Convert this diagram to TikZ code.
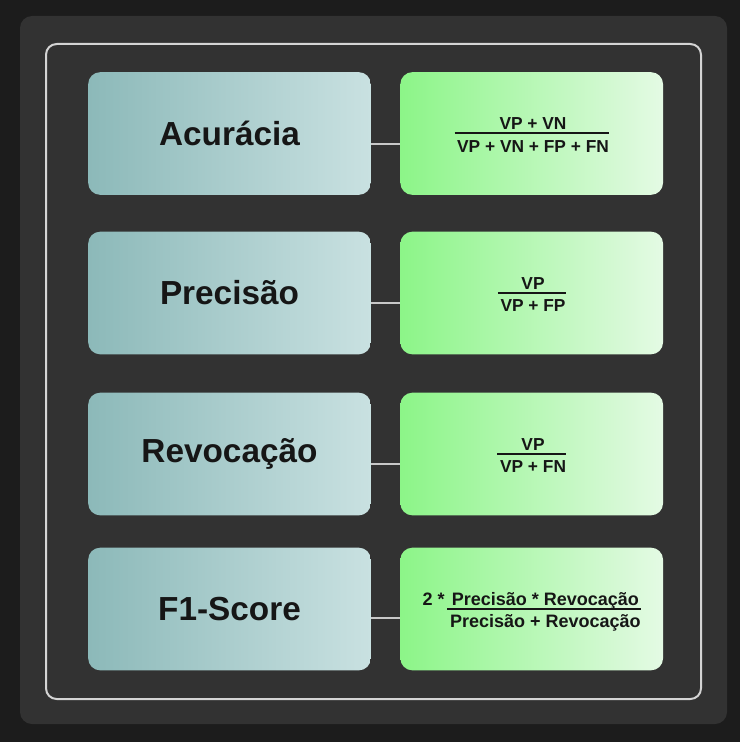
\documentclass[tikz,border=0pt]{standalone}
\usepackage{fontspec}
\setmainfont{Liberation Sans}
\usetikzlibrary{positioning}

\definecolor{bgdark}{HTML}{1C1C1C}
\definecolor{panel}{HTML}{323232}
\definecolor{framegray}{HTML}{D4D4D4}
\definecolor{linkgray}{HTML}{C8C8C8}
\definecolor{ink}{HTML}{161616}
\definecolor{metricL}{HTML}{8CB9B9}
\definecolor{metricR}{HTML}{C9E1E1}
\definecolor{formulaL}{HTML}{8CF588}
\definecolor{formulaR}{HTML}{E4FAE4}

% fraction: optional prefix, numerator tight on the bar
\newcommand{\ratio}[3][]{\setlength{\arrayrulewidth}{1.5pt}%
  \begin{tabular}{@{}r@{}c@{}}#1 & \rule{0pt}{16pt}\hspace{2pt}#2\hspace{2pt}\\[-2.8pt]\cline{2-2} & \rule{0pt}{15pt}\hspace{2pt}#3\hspace{2pt}\end{tabular}}

\begin{document}
\begin{tikzpicture}[
    x=0.75pt, y=-0.75pt,
    metric/.style={rectangle, rounded corners=9pt, left color=metricL, right color=metricR, text=ink, minimum width=212pt, minimum height=92pt, font=\fontsize{25}{29}\selectfont\bfseries},
    formula/.style={rectangle, rounded corners=9pt, left color=formulaL, right color=formulaR, text=ink, minimum width=197pt, minimum height=92pt, font=\fontsize{13}{16}\selectfont\bfseries},
    link/.style={draw=linkgray, line width=1.5pt}
]
    % background, panel and frame
    \fill[bgdark] (0,0) rectangle (740,742);
    \fill[panel, rounded corners=9pt] (20,16) rectangle (727,724);
    \draw[framegray, line width=1.5pt, rounded corners=8pt] (46,44) rectangle (701,699);

    % metrics
    \node[metric] (acc) at (229.5,133.5) {Acurácia};
    \node[metric] (prec) at (229.5,293) {Precisão};
    \node[metric] (rev) at (229.5,454) {Revocação};
    \node[metric] (fone) at (229.5,609) {F1-Score};

    % formulas
    \node[formula, right=21.75pt of acc] (accf) {\ratio{VP + VN}{VP + VN + FP + FN}};
    \node[formula, right=21.75pt of prec] (precf) {\ratio{VP}{VP + FP}};
    \node[formula, right=21.75pt of rev] (revf) {\ratio{VP}{VP + FN}};
    \node[formula, right=21.75pt of fone, font=\fontsize{13.5}{16}\selectfont\bfseries] (fonef) {\ratio[2 *\hspace{2pt}]{Precisão * Revocação}{Precisão + Revocação}};

    \draw[link] ([yshift=-7.5pt]acc.east) -- ([yshift=-7.5pt]accf.west);
    \draw[link] ([yshift=-7.5pt]prec.east) -- ([yshift=-7.5pt]precf.west);
    \draw[link] ([yshift=-7.5pt]rev.east) -- ([yshift=-7.5pt]revf.west);
    \draw[link] ([yshift=-7pt]fone.east) -- ([yshift=-7pt]fonef.west);
\end{tikzpicture}
\end{document}
